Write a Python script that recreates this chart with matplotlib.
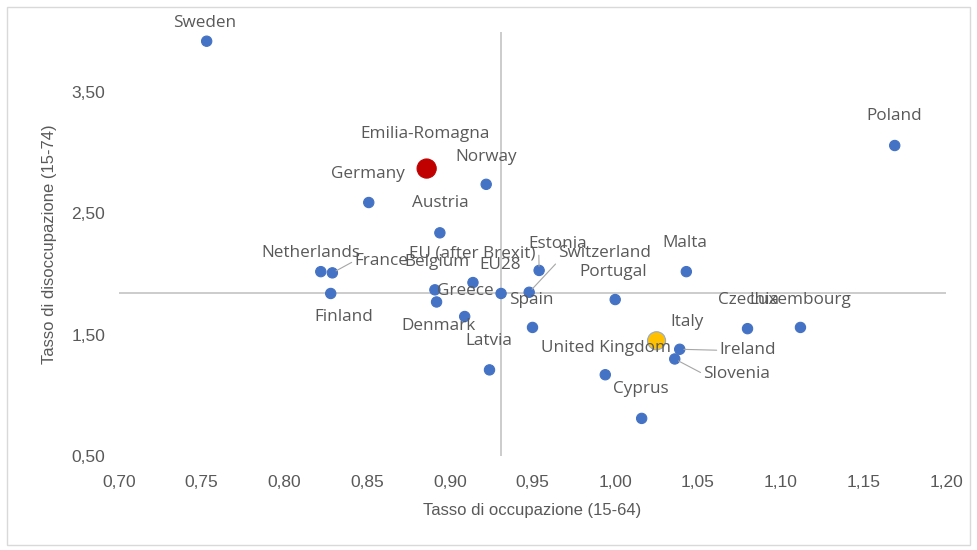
import matplotlib
matplotlib.use("Agg")
import matplotlib.pyplot as plt
from matplotlib.patches import Rectangle
from matplotlib.ticker import FuncFormatter, MultipleLocator

# Data
countries = [
    "Sweden", "Poland", "Emilia-Romagna", "Norway", "Germany", "Austria",
    "Malta", "Netherlands", "France", "Finland", "Belgium", "EU (after Brexit)",
    "EU28", "Greece", "Denmark", "Estonia", "Switzerland", "Spain", "Portugal",
    "Latvia", "United Kingdom", "Cyprus", "Italy", "Ireland", "Slovenia",
    "Czechia", "Luxembourg",
]
employment = [
    0.753, 1.169, 0.886, 0.922, 0.851, 0.894,
    1.043, 0.822, 0.829, 0.828, 0.891, 0.914,
    0.931, 0.892, 0.909, 0.954, 0.948, 0.950, 1.000,
    0.924, 0.994, 1.016, 1.025, 1.039, 1.036,
    1.080, 1.112,
]
unemployment = [
    3.92, 3.06, 2.87, 2.74, 2.59, 2.34,
    2.02, 2.02, 2.01, 1.84, 1.87, 1.93,
    1.84, 1.77, 1.65, 2.03, 1.85, 1.56, 1.79,
    1.21, 1.17, 0.81, 1.45, 1.38, 1.30,
    1.55, 1.56,
]

# Label placement (pixel offsets from the marker) and leader lines
label_offsets = {
    "Sweden": (-2, 18), "Poland": (-1, 30), "Emilia-Romagna": (-2, 35),
    "Norway": (0, 27), "Germany": (-1, 29), "Austria": (0, 30),
    "Malta": (-2, 29), "Netherlands": (-10, 19), "France": (49, 12),
    "Finland": (13, -24), "Belgium": (2, 28), "EU (after Brexit)": (-1, 29),
    "EU28": (-1, 28), "Greece": (29, 11), "Denmark": (-26, -9),
    "Estonia": (19, 26), "Switzerland": (75, 39), "Spain": (-1, 27),
    "Portugal": (-2, 28), "Latvia": (-1, 29), "United Kingdom": (1, 27),
    "Cyprus": (-1, 29), "Italy": (31, 19), "Ireland": (68, -1),
    "Slovenia": (62, -15), "Czechia": (1, 29), "Luxembourg": (0, 27),
}
leaders = {
    "France": (0.0, 0.5), "Estonia": (0.17, 0.1), "Switzerland": (0.02, 0.1),
    "Ireland": (0.0, 0.5), "Slovenia": (0.0, 0.5),
}

BLUE = "#4472C4"
GRAY_TXT = "#595959"
LINE_GRAY = "#BFBFBF"
NARROW = ["Liberation Sans Narrow", "Liberation Sans", "DejaVu Sans"]

plt.rcParams["font.family"] = ["Open Sans", "DejaVu Sans"]

fig = plt.figure(figsize=(9.77, 5.5), dpi=100)
ax_h = (456 - 31.5)
ax = fig.add_axes([119 / 977, 1 - 456 / 550, (946 - 119) / 977, ax_h / 550])

ax.set_xlim(0.70, 1.20)
ax.set_ylim(0.50, 4.00)
for s in ax.spines.values():
    s.set_visible(False)

# axes cross at EU28
i_eu = countries.index("EU28")
ax.axvline(employment[i_eu], color=LINE_GRAY, lw=1.1, zorder=1)
ax.axhline(unemployment[i_eu], color=LINE_GRAY, lw=1.1, zorder=1)

colors, sizes, edges = [], [], []
for name in countries:
    if name == "Emilia-Romagna":
        colors.append("#C00000"); sizes.append(190); edges.append("#C00000")
    elif name == "Italy":
        colors.append("#FFC000"); sizes.append(170); edges.append("#8FAADC")
    else:
        colors.append(BLUE); sizes.append(55); edges.append(BLUE)
ax.scatter(employment, unemployment, s=sizes, c=colors, edgecolors=edges,
           linewidths=0.8, zorder=3)

for name, x, y in zip(countries, employment, unemployment):
    dx, dy = label_offsets[name]
    kw = {}
    if name in leaders:
        kw["arrowprops"] = dict(arrowstyle="-", color="#A6A6A6", lw=0.8,
                                shrinkA=0, shrinkB=3, relpos=leaders[name])
    ax.annotate(name, (x, y), xytext=(dx, dy), textcoords="offset pixels",
                ha="center", va="center", fontsize=12.3, color=GRAY_TXT,
                zorder=4, **kw)

fmt = FuncFormatter(lambda v, p: f"{v:.2f}".replace(".", ","))
ax.xaxis.set_major_locator(MultipleLocator(0.05))
ax.xaxis.set_major_formatter(fmt)
ax.yaxis.set_major_formatter(fmt)
ax.set_yticks([0.5, 1.5, 2.5, 3.5])
ax.tick_params(length=0, labelsize=12.5, labelcolor=GRAY_TXT)
ax.tick_params(axis="x", pad=13.5)
ax.tick_params(axis="y", pad=10)
for lab in ax.get_xticklabels() + ax.get_yticklabels():
    lab.set_family(NARROW)

ax.set_xlabel("Tasso di occupazione (15-64)", fontsize=12, color=GRAY_TXT,
              family=NARROW, va="center")
ax.set_ylabel("Tasso di disoccupazione (15-74)", fontsize=12, color=GRAY_TXT,
              family=NARROW, va="center")
ax.xaxis.set_label_coords(0.5, -(511 - 456) / ax_h)
ax.yaxis.set_label_coords((50 - 119) / 827, 0.5)

# chart border
fig.patches.append(Rectangle((7 / 977, 5 / 550), 963 / 977, 538 / 550,
                             transform=fig.transFigure, fill=False,
                             edgecolor="#D9D9D9", lw=1))

fig.savefig("out.png", dpi=100)
